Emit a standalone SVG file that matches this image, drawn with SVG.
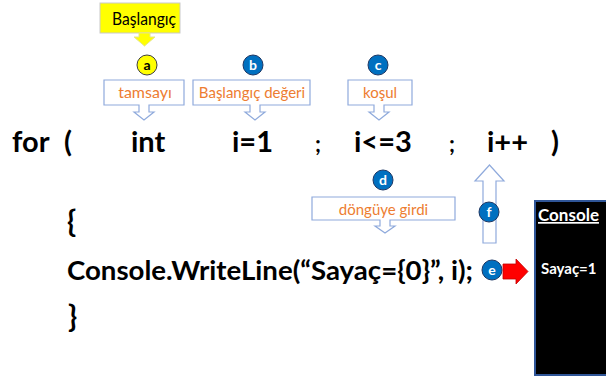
<svg xmlns="http://www.w3.org/2000/svg" width="606" height="381" viewBox="0 0 606 381">
  <style>
    .code { font-family: Lato, "Open Sans", "Liberation Sans", sans-serif; font-weight: bold; fill: #000; }
    .lbl { font-family: Lato, "Open Sans", "Liberation Sans", sans-serif; font-size: 15px; fill: #ED7D31; text-anchor: middle; }
    .callout { fill: #fff; stroke: #8FAADC; stroke-width: 1.2; }
    .badge { fill: #0070C0; stroke: #1F3864; stroke-width: 1; }
    .badge-y { fill: #FFFF00; stroke: #404040; stroke-width: 1; }
    .btxt { font-family: Lato, "Open Sans", "Liberation Sans", sans-serif; font-weight: bold; font-size: 14px; fill: #fff; text-anchor: middle; }
  </style>
  <rect width="606" height="381" fill="#fff"/>

  <!-- start label -->
  <g id="start">
    <rect x="100" y="3" width="80" height="30" fill="#FFFF00" stroke="#C9C9C9" stroke-width="1"/>
    <text x="144" y="25" font-family="Lato, 'Open Sans', sans-serif" font-size="17" fill="#000" text-anchor="middle" textLength="64" lengthAdjust="spacingAndGlyphs">Başlangıç</text>
    <path d="M139,33 L150,33 L150,37 L155,37 L144.5,46 L134,37 L139,37 Z" fill="#FFFF00" stroke="#E6E68A" stroke-width="1"/>
  </g>

  <!-- a: type -->
  <g id="node-a">
    <circle cx="147" cy="65" r="10" class="badge-y"/>
    <text x="147" y="70" class="btxt" style="fill:#000">a</text>
    <path class="callout" d="M104,80 H184 V105 H149 V112 H154 L144,120 L134,112 H139 V105 H104 Z"/>
    <text x="145" y="98" class="lbl" style="font-size:16px">tamsayı</text>
  </g>

  <!-- b: initial value -->
  <g id="node-b">
    <circle cx="253" cy="65" r="10" class="badge"/>
    <text x="253" y="70" class="btxt">b</text>
    <path class="callout" d="M193,80 H310 V105 H260 V112 H265 L255,120 L245,112 H250 V105 H193 Z"/>
    <text x="252" y="98" class="lbl">Başlangıç değeri</text>
  </g>

  <!-- c: condition -->
  <g id="node-c">
    <circle cx="378" cy="65" r="10" class="badge"/>
    <text x="378" y="70" class="btxt">c</text>
    <path class="callout" d="M348,80 H412 V105 H384 V112 H389 L379,120 L369,112 H374 V105 H348 Z"/>
    <text x="380" y="98" class="lbl">koşul</text>
  </g>

  <!-- for header -->
  <g id="for-line" class="code" font-size="29">
    <text x="12" y="152">for</text>
    <text x="64" y="152">(</text>
    <text x="131" y="152">int</text>
    <text x="232" y="152">i=1</text>
    <text x="315" y="152" font-size="22">;</text>
    <text x="354" y="152">i&lt;=3</text>
    <text x="449" y="152" font-size="22">;</text>
    <text x="487" y="152">i++</text>
    <text x="551" y="152">)</text>
  </g>

  <!-- d: entered loop -->
  <g id="node-d">
    <circle cx="383" cy="180" r="10" class="badge"/>
    <text x="383" y="185" class="btxt">d</text>
    <path class="callout" d="M312,197 H455 V220 H390 V226 H395 L385,233 L375,226 H380 V220 H312 Z"/>
    <text x="383.5" y="215" class="lbl">döngüye girdi</text>
  </g>

  <!-- f: increment -->
  <g id="node-f">
    <path class="callout" d="M483,243 V181 H475 L489.5,165 L504,181 H496 V243 Z"/>
    <circle cx="489" cy="212" r="10" class="badge"/>
    <text x="489" y="217" class="btxt">f</text>
  </g>

  <!-- loop body -->
  <g id="body" class="code" font-size="27">
    <text x="67" y="232" font-size="30">{</text>
    <text x="67" y="280" textLength="406" lengthAdjust="spacingAndGlyphs">Console.WriteLine(“Sayaç={0}”, i);</text>
    <text x="68" y="327" font-size="30">}</text>
  </g>

  <!-- e: output -->
  <g id="node-e">
    <circle cx="492" cy="270" r="10" class="badge"/>
    <text x="492" y="275" class="btxt">e</text>
  </g>

  <g id="connectors">
    <path d="M503,264 H516 V259 L528,271.5 L516,284 V279 H503 Z" fill="#FF0000" stroke="#C00000" stroke-width="0.8"/>
  </g>

  <!-- console window -->
  <g id="console">
    <rect x="535" y="201" width="75" height="174" fill="#000" stroke="#2F5597" stroke-width="2"/>
    <text x="538" y="221" font-family="Lato, 'Open Sans', sans-serif" font-weight="bold" font-size="17" fill="#fff" text-decoration="underline">Console</text>
    <text x="541" y="274" font-family="Lato, 'Open Sans', sans-serif" font-weight="bold" font-size="15" fill="#fff">Sayaç=1</text>
  </g>
</svg>
